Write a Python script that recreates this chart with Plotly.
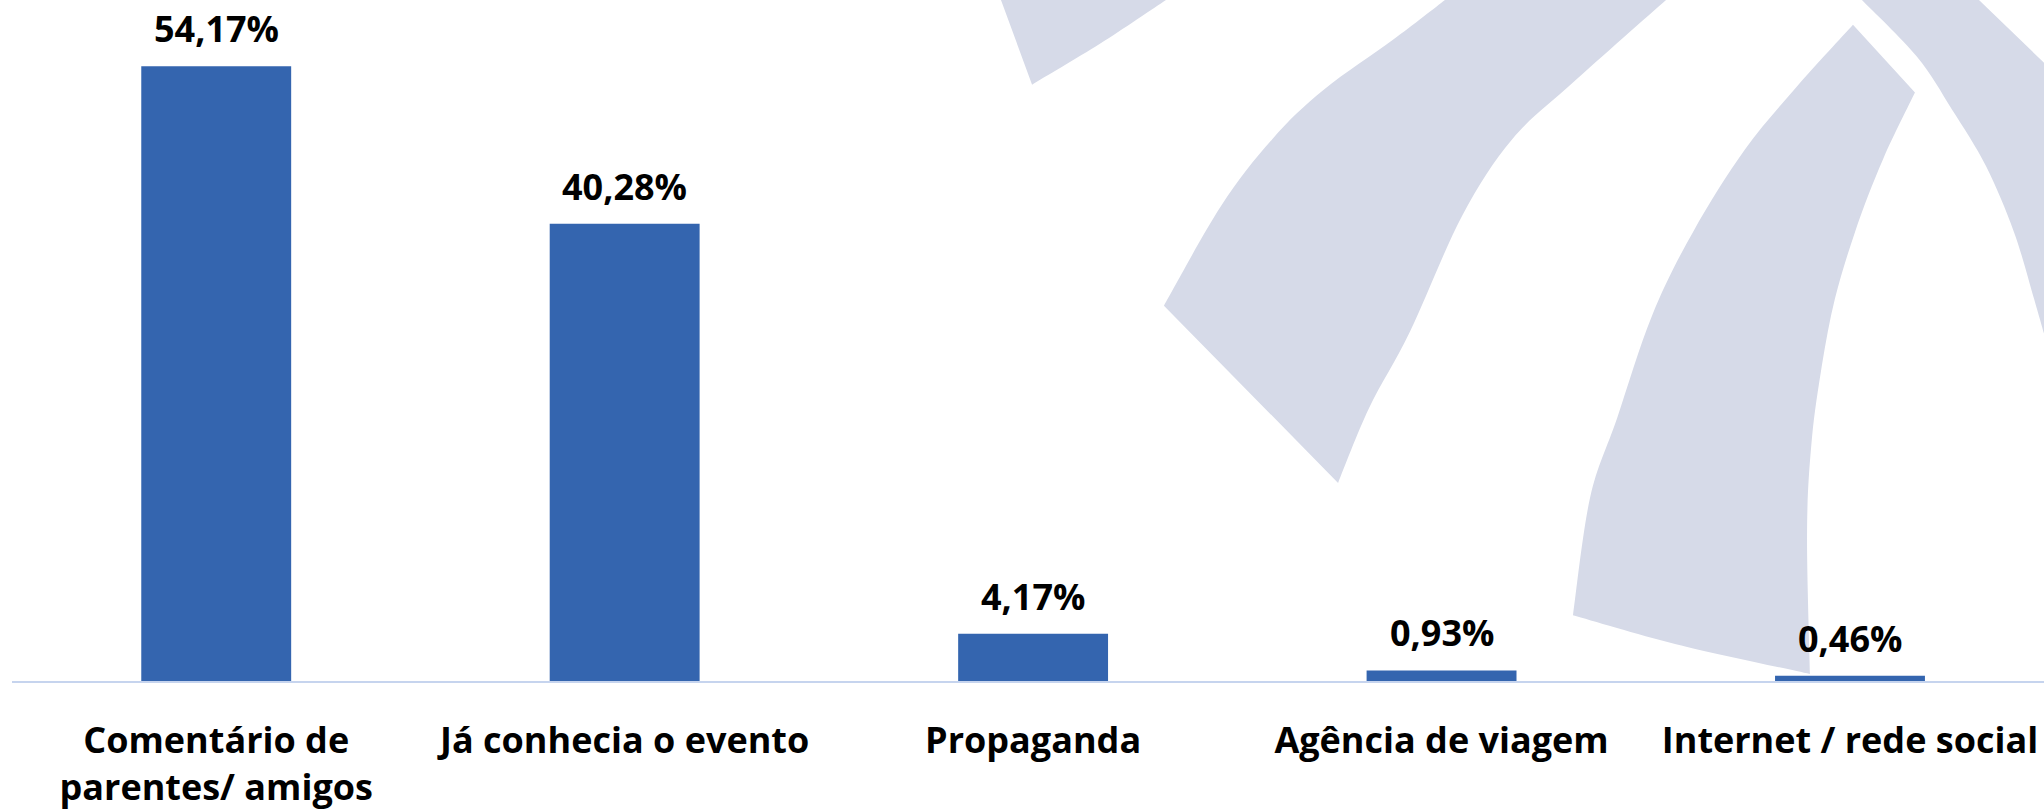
import plotly.graph_objects as go

categorias = ["Comentário de<br>parentes/ amigos", "Já conhecia o evento", "Propaganda",
              "Agência de viagem", "Internet / rede social"]
percentuais = [54.17, 40.28, 4.17, 0.93, 0.46]

azul = "#3465af"
marca = "#d6dae8"

W, H = 2044, 811
ml, mr, mt, mb = 12, 0, 0, 127

# watermark bands (pixel coords of the picture), each one a list of edges
faixas = [
    [[(1001, 0), (1032, 85)],
     [(1032, 85), (1100, 44), (1166, 0)],
     [(1166, 0), (1001, 0)]],
    [[(1164, 307), (1338, 485)],
     [(1338, 485), (1369, 410), (1410, 333), (1462, 217), (1512, 140), (1573, 83), (1666, 0)],
     [(1666, 0), (1445, 0)],
     [(1445, 0), (1393, 40), (1324, 90), (1272, 140), (1221, 207), (1164, 307)]],
    [[(1853, 25), (1915, 93)],
     [(1915, 93), (1883, 160), (1855, 233), (1835, 300), (1822, 367), (1812, 440),
      (1807, 533), (1810, 677)],
     [(1810, 677), (1676, 647), (1573, 618)],
     [(1573, 618), (1590, 500), (1617, 420), (1652, 317), (1693, 233), (1745, 150),
      (1797, 87), (1853, 25)]],
    [[(1862, 0), (1917, 57), (1952, 110), (1986, 167), (2014, 233), (2034, 300), (2044, 335)],
     [(2044, 335), (2044, 63)],
     [(2044, 63), (1979, 0)],
     [(1979, 0), (1862, 0)]],
]


def to_paper(p):
    return (p[0] - ml) / (W - ml - mr), (H - mb - p[1]) / (H - mt - mb)


def edge_path(pts):
    # catmull-rom through the points, as cubic beziers
    pts = [to_paper(p) for p in pts]
    if len(pts) == 2:
        return f" L {pts[1][0]:.4f},{pts[1][1]:.4f}"
    seg = ""
    n = len(pts)
    for i in range(n - 1):
        p0 = pts[max(i - 1, 0)]
        p1 = pts[i]
        p2 = pts[i + 1]
        p3 = pts[min(i + 2, n - 1)]
        c1 = (p1[0] + (p2[0] - p0[0]) / 6, p1[1] + (p2[1] - p0[1]) / 6)
        c2 = (p2[0] - (p3[0] - p1[0]) / 6, p2[1] - (p3[1] - p1[1]) / 6)
        seg += f" C {c1[0]:.4f},{c1[1]:.4f} {c2[0]:.4f},{c2[1]:.4f} {p2[0]:.4f},{p2[1]:.4f}"
    return seg


shapes = []
for f in faixas:
    x0, y0 = to_paper(f[0][0])
    path = f"M {x0:.4f},{y0:.4f}" + "".join(edge_path(e) for e in f) + " Z"
    shapes.append(dict(type="path", path=path, xref="paper", yref="paper",
                       fillcolor=marca, line=dict(width=0), layer="below"))

fonte = "Open Sans"

fig = go.Figure()
fig.add_trace(go.Bar(x=categorias, y=percentuais, marker_color=azul, width=0.367,
                     marker_line_width=0, hoverinfo="skip"))

for c, v in zip(categorias, percentuais):
    fig.add_annotation(x=c, y=v, text=f"{v:.2f}".replace(".", ",") + "%",
                       showarrow=False, yanchor="bottom", yshift=11,
                       font=dict(family=fonte, size=36, color="#000000", weight="bold"))

fig.update_layout(
    width=W, height=H,
    margin=dict(l=ml, r=mr, t=mt, b=mb),
    plot_bgcolor="white", paper_bgcolor="white",
    showlegend=False,
    shapes=shapes,
    font=dict(family=fonte, color="#000000"),
)
fig.update_xaxes(range=[-0.5, 4.475], showline=True, linecolor="#c6d4ee", linewidth=2,
                 ticks="", showgrid=False, ticklabelstandoff=27,
                 tickfont=dict(family=fonte, size=36, color="#000000", weight="bold"))
fig.update_yaxes(range=[0, 60], visible=False, showgrid=False)

fig.write_html("out.html", config={"displayModeBar": False},
               post_script="document.body.style.margin='0';")
